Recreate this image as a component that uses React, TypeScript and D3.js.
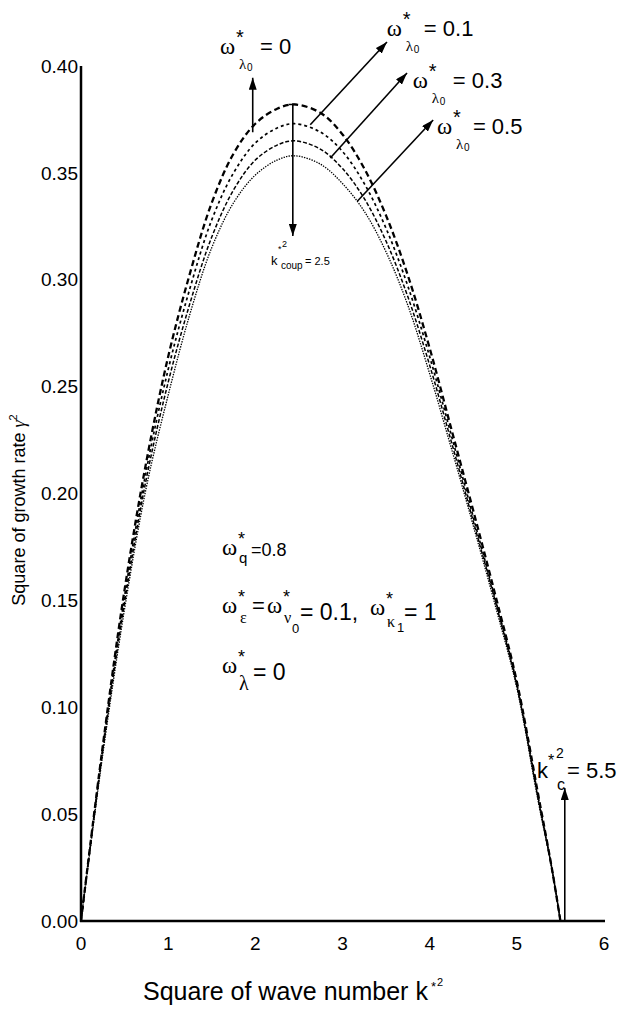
import React from "react";
import * as d3 from "d3";

// square of wave number k*^2
const kValues = [
  0, 0.25, 0.5, 0.75, 1, 1.25, 1.5, 1.75, 2, 2.25, 2.45, 2.75, 3, 3.25, 3.5,
  3.75, 4, 4.25, 4.5, 4.75, 5, 5.25, 5.4, 5.5,
];

// square of growth rate for each omega*_lambda0
const growthW00 = [
  0, 0.082, 0.155, 0.215, 0.264, 0.303, 0.336, 0.359, 0.373, 0.38, 0.382, 0.378,
  0.368, 0.352, 0.33, 0.302, 0.268, 0.23, 0.192, 0.153, 0.112, 0.058, 0.025, 0,
];
const growthW01 = [
  0, 0.081, 0.152, 0.211, 0.258, 0.296, 0.328, 0.35, 0.364, 0.371, 0.373, 0.369,
  0.36, 0.345, 0.324, 0.297, 0.264, 0.227, 0.189, 0.151, 0.111, 0.057, 0.025, 0,
];
const growthW03 = [
  0, 0.08, 0.149, 0.207, 0.252, 0.289, 0.32, 0.342, 0.356, 0.363, 0.365, 0.361,
  0.352, 0.338, 0.318, 0.292, 0.26, 0.224, 0.187, 0.15, 0.11, 0.056, 0.025, 0,
];
const growthW05 = [
  0, 0.078, 0.146, 0.203, 0.246, 0.284, 0.315, 0.336, 0.349, 0.356, 0.358, 0.354,
  0.345, 0.332, 0.313, 0.288, 0.256, 0.221, 0.185, 0.148, 0.109, 0.055, 0.025, 0,
];

const xTicks = [0, 1, 2, 3, 4, 5, 6];
const yTicks = [0, 0.05, 0.1, 0.15, 0.2, 0.25, 0.3, 0.35, 0.4];

const SANS = "'Liberation Sans', Arial, sans-serif";
const SERIF = "'Liberation Serif', 'Times New Roman', serif";

const W = 632;
const H = 1018;

const x = d3.scaleLinear().domain([0, 6]).range([81, 604]);
const y = d3.scaleLinear().domain([0, 0.4]).range([921, 66]);

const series = [
  { values: growthW00, dash: "6,3.5", width: 2.3 },
  { values: growthW01, dash: "3,3", width: 1.7 },
  { values: growthW03, dash: "4,2", width: 1.5 },
  { values: growthW05, dash: "1.4,1.2", width: 1.3 },
];

// arrows in data coords: tail -> head
const arrows = [
  { from: [1.97, 0.369], to: [1.97, 0.3945] },
  { from: [2.63, 0.3725], to: [3.51, 0.4112] },
  { from: [2.86, 0.357], to: [3.74, 0.3967] },
  { from: [3.17, 0.3367], to: [4.04, 0.3747] },
  { from: [2.43, 0.382], to: [2.43, 0.3205] },
  { from: [5.55, 0], to: [5.55, 0.0622] },
];

const topLabels = [
  { k: 1.594, v: 0.4056, eq: "= 0", eqDx: 40 },
  { k: 3.509, v: 0.414, eq: "= 0.1", eqDx: 37 },
  { k: 3.807, v: 0.3897, eq: "= 0.3", eqDx: 40 },
  { k: 4.083, v: 0.3682, eq: "= 0.5", eqDx: 36 },
];

const OmegaL0 = ({ px, py, eq, eqDx }: any) => (
  <g>
    <text x={px} y={py} fontFamily={SERIF} fontSize={23}>ω</text>
    <text x={px + 16} y={py - 10} fontFamily={SANS} fontSize={20}>*</text>
    <text x={px + 19} y={py + 15} fontFamily={SERIF} fontSize={15}>λ</text>
    <text x={px + 27} y={py + 17} fontFamily={SANS} fontSize={10}>0</text>
    <text x={px + eqDx} y={py} fontFamily={SANS} fontSize={22}>{eq}</text>
  </g>
);

const App = () => {
  const line = d3
    .line<number>()
    .x((_, i) => x(kValues[i]))
    .y((d) => y(d))
    .curve(d3.curveCatmullRom.alpha(0.5));

  return (
    <div style={{ position: "absolute", left: 0, top: 0 }}>
      <svg width={W} height={H} style={{ display: "block", background: "#fff" }}>
        <defs>
          <marker
            id="head"
            viewBox="0 0 12 8"
            refX="12"
            refY="4"
            markerWidth="12"
            markerHeight="8"
            markerUnits="userSpaceOnUse"
            orient="auto"
          >
            <path d="M0,0 L12,4 L0,8 Z" fill="#000" />
          </marker>
        </defs>

        {/* curves */}
        {series.map((s, i) => (
          <path
            key={i}
            d={line(s.values) || ""}
            fill="none"
            stroke="#000"
            strokeWidth={s.width}
            strokeDasharray={s.dash}
          />
        ))}

        {/* axes */}
        <line x1={x(0)} x2={x(0)} y1={y(0) + 1} y2={y(0.4)} stroke="#000" strokeWidth={2.5} />
        <line x1={x(0) - 1} x2={x(6) + 1} y1={y(0)} y2={y(0)} stroke="#000" strokeWidth={2.5} />

        {yTicks.map((t) => (
          <text
            key={t}
            x={x(0) - 3}
            y={y(t)}
            dy="0.35em"
            textAnchor="end"
            fontFamily={SANS}
            fontSize={19}
          >
            {t.toFixed(2)}
          </text>
        ))}
        {xTicks.map((t) => (
          <text key={t} x={x(t)} y={y(0) + 29} textAnchor="middle" fontFamily={SANS} fontSize={19}>
            {t}
          </text>
        ))}

        {/* axis titles */}
        <text x={143} y={1000} fontFamily={SANS} fontSize={25}>
          Square of wave number k
        </text>
        <text x={431} y={991} fontFamily={SANS} fontSize={13}>*</text>
        <text x={437} y={986} fontFamily={SANS} fontSize={11}>2</text>

        <g transform="translate(25,510) rotate(-90)">
          <text x={0} y={0} textAnchor="middle" fontFamily={SANS} fontSize={18}>
            Square of growth rate <tspan fontFamily={SERIF} fontStyle="italic">γ</tspan>
            <tspan fontSize={11} dy={-8}>2</tspan>
          </text>
        </g>

        {/* arrows */}
        {arrows.map((a, i) => (
          <line
            key={i}
            x1={x(a.from[0])}
            y1={y(a.from[1])}
            x2={x(a.to[0])}
            y2={y(a.to[1])}
            stroke="#000"
            strokeWidth={1.6}
            markerEnd="url(#head)"
          />
        ))}
        <line
          x1={x(2.43) - 4}
          x2={x(2.43) + 4}
          y1={y(0.382)}
          y2={y(0.382)}
          stroke="#000"
          strokeWidth={1.5}
        />

        {/* omega*_lambda0 labels */}
        {topLabels.map((l, i) => (
          <OmegaL0 key={i} px={x(l.k)} py={y(l.v)} eq={l.eq} eqDx={l.eqDx} />
        ))}

        {/* k*^2_coup */}
        <g fontFamily={SANS}>
          <text x={271} y={265} fontSize={13}>k</text>
          <text x={278} y={252} fontSize={9}>*</text>
          <text x={282} y={247} fontSize={9}>2</text>
          <text x={281} y={269} fontSize={10}>coup</text>
          <text x={305} y={265} fontSize={11}>= 2.5</text>
        </g>

        {/* k*^2_c */}
        <g fontFamily={SANS}>
          <text x={537} y={778} fontSize={22}>k</text>
          <text x={548} y={766} fontSize={16}>*</text>
          <text x={556} y={758} fontSize={14}>2</text>
          <text x={557} y={790} fontSize={16}>c</text>
          <text x={567} y={778} fontSize={22}>= 5.5</text>
        </g>

        {/* parameter block */}
        <g>
          <text x={222} y={555} fontFamily={SERIF} fontSize={23}>ω</text>
          <text x={238} y={545} fontFamily={SANS} fontSize={18}>*</text>
          <text x={239} y={563} fontFamily={SANS} fontSize={15}>q</text>
          <text x={251} y={556} fontFamily={SANS} fontSize={18}>=0.8</text>

          <text x={222} y={613} fontFamily={SERIF} fontSize={23}>ω</text>
          <text x={238} y={603} fontFamily={SANS} fontSize={18}>*</text>
          <text x={240} y={623} fontFamily={SERIF} fontSize={16}>ε</text>
          <text x={252} y={613} fontFamily={SANS} fontSize={22}>=</text>
          <text x={267} y={613} fontFamily={SERIF} fontSize={23}>ω</text>
          <text x={283} y={603} fontFamily={SANS} fontSize={18}>*</text>
          <text x={284} y={623} fontFamily={SERIF} fontSize={16}>ν</text>
          <text x={292} y={633} fontFamily={SANS} fontSize={13}>0</text>
          <text x={300} y={620} fontFamily={SANS} fontSize={23}>= 0.1,</text>
          <text x={370} y={615} fontFamily={SERIF} fontSize={23}>ω</text>
          <text x={386} y={605} fontFamily={SANS} fontSize={18}>*</text>
          <text x={387} y={627} fontFamily={SERIF} fontSize={16}>κ</text>
          <text x={397} y={632} fontFamily={SANS} fontSize={13}>1</text>
          <text x={404} y={620} fontFamily={SANS} fontSize={23}>= 1</text>

          <text x={222} y={673} fontFamily={SERIF} fontSize={23}>ω</text>
          <text x={238} y={663} fontFamily={SANS} fontSize={18}>*</text>
          <text x={239} y={690} fontFamily={SERIF} fontSize={20}>λ</text>
          <text x={253} y={680} fontFamily={SANS} fontSize={23}>= 0</text>
        </g>
      </svg>
    </div>
  );
};

export default App;
